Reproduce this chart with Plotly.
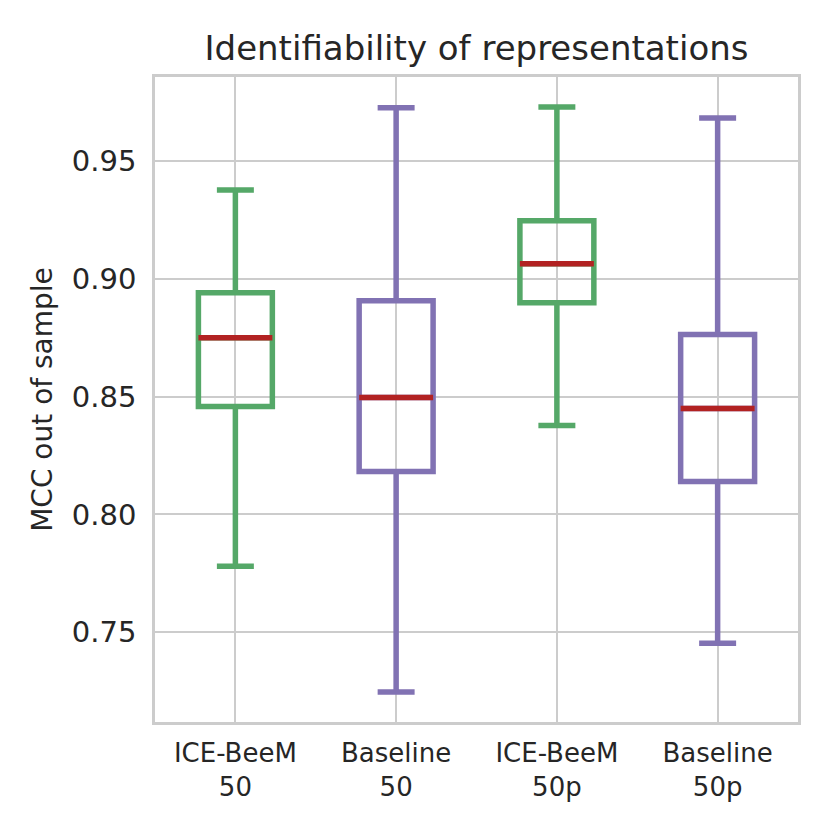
import plotly.graph_objects as go

# summary stats (one entry per box)
labels = ["ICE-BeeM<br>50", "Baseline<br>50", "ICE-BeeM<br>50p", "Baseline<br>50p"]
groups = ["ICE-BeeM", "Baseline", "ICE-BeeM", "Baseline"]
lower = [0.778, 0.7246, 0.8377, 0.7453]
q1 = [0.8458, 0.8182, 0.8898, 0.8140]
median = [0.8750, 0.8496, 0.9064, 0.8449]
q3 = [0.8941, 0.8907, 0.9246, 0.8763]
upper = [0.9377, 0.9725, 0.9729, 0.9682]

colors = {"ICE-BeeM": "#55a868", "Baseline": "#8172b3"}
median_color = "#b22222"
font = "DejaVu Sans"
text_color = "#262626"
grid_color = "#cccccc"

fig = go.Figure()

for g in ["ICE-BeeM", "Baseline"]:
    idx = [i for i, name in enumerate(groups) if name == g]
    fig.add_trace(go.Box(
        x=[labels[i] for i in idx],
        q1=[q1[i] for i in idx],
        median=[median[i] for i in idx],
        q3=[q3[i] for i in idx],
        lowerfence=[lower[i] for i in idx],
        upperfence=[upper[i] for i in idx],
        name=g,
        width=0.46,
        whiskerwidth=0.5,
        line=dict(color=colors[g], width=5.5),
        fillcolor="rgba(0,0,0,0)",
        boxpoints=False,
        showlegend=False,
    ))

# medians drawn as flat boxes so they can have their own colour
fig.add_trace(go.Box(
    x=labels,
    q1=median,
    median=median,
    q3=median,
    lowerfence=median,
    upperfence=median,
    width=0.46,
    whiskerwidth=0,
    line=dict(color=median_color, width=5.5),
    fillcolor="rgba(0,0,0,0)",
    boxpoints=False,
    showlegend=False,
))

fig.update_layout(
    width=830,
    height=830,
    boxmode="overlay",
    plot_bgcolor="white",
    paper_bgcolor="white",
    margin=dict(l=147, r=40, t=69, b=116),
    font=dict(family=font, color=text_color),
    title=dict(
        text="Identifiability of representations",
        x=0.5, xref="paper", xanchor="center",
        y=0.952, yref="container", yanchor="middle",
        font=dict(size=34, family=font, color=text_color),
    ),
)

fig.update_xaxes(
    type="category",
    categoryorder="array",
    categoryarray=labels,
    range=[-0.5, 3.5],
    showgrid=True,
    gridcolor=grid_color,
    gridwidth=2,
    showline=True,
    linecolor=grid_color,
    linewidth=2.5,
    mirror=True,
    ticks="",
    tickfont=dict(size=26),
    ticklabelstandoff=6,
    zeroline=False,
)

fig.update_yaxes(
    range=[0.7119, 0.9856],
    tickvals=[0.75, 0.80, 0.85, 0.90, 0.95],
    tickformat=".2f",
    showgrid=True,
    gridcolor=grid_color,
    gridwidth=2,
    showline=True,
    linecolor=grid_color,
    linewidth=2.5,
    mirror=True,
    ticks="",
    tickfont=dict(size=29),
    ticklabelstandoff=10,
    zeroline=False,
    title=dict(text="MCC out of sample", font=dict(size=28), standoff=12),
)

fig.write_html("out.html")
